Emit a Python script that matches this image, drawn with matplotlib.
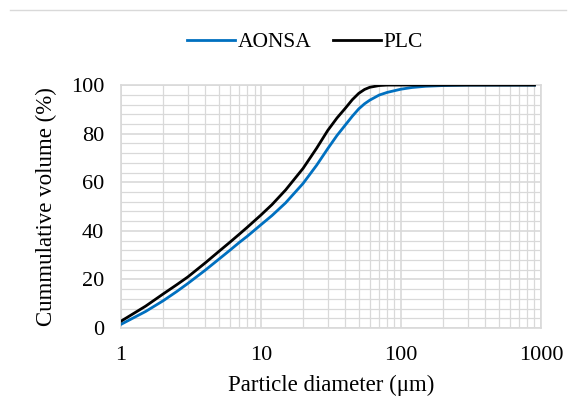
import matplotlib
matplotlib.use("Agg")
import matplotlib.pyplot as plt
from matplotlib.ticker import FixedLocator, NullFormatter
from matplotlib.lines import Line2D

# particle size distribution, cumulative volume (%)
d_aonsa = [1, 1.5, 2, 2.5, 3, 4, 5, 6, 7, 8, 10, 12, 15, 20, 25, 30, 35, 40, 45, 50,
           55, 60, 70, 80, 100, 120, 150, 200, 300, 500, 900]
aonsa = [1.5, 6.8, 11.2, 15.0, 18.3, 23.8, 28.3, 32, 35.2, 37.8, 42.5, 46.3, 51.5, 59.5, 67, 73.8, 79.3, 83.5, 87.2, 90.2,
         92.3, 93.8, 95.9, 97.0, 98.3, 99, 99.5, 99.8, 100, 100, 100]

d_plc = [1, 1.5, 2, 2.5, 3, 4, 5, 6, 7, 8, 10, 12, 15, 20, 25, 30, 35, 40, 45, 50,
         55, 60, 70, 80, 100, 200, 500, 900]
plc = [2.8, 9.0, 14.0, 17.8, 21.0, 26.8, 31.5, 35.3, 38.6, 41.5, 46.5, 50.8, 56.8, 65.7, 74, 81.3, 86.5, 90.4, 94, 96.6,
       98.2, 99.1, 99.8, 100, 100, 100, 100, 100]

x_ticks = [1, 10, 100, 1000]
y_ticks = [0, 20, 40, 60, 80, 100]

plt.rcParams["font.family"] = ["Liberation Serif", "DejaVu Serif"]

fig = plt.figure(figsize=(5.76, 4.17), dpi=100)
ax = fig.add_axes([0.210, 0.2134, 0.729, 0.5826])

grid_c = "#d9d9d9"
ax.plot(d_aonsa, aonsa, color="#0070c0", lw=2.0, label="AONSA", zorder=3)
ax.plot(d_plc, plc, color="black", lw=2.0, label="PLC", zorder=3)

ax.set_xscale("log")
ax.set_xlim(1, 1000)
ax.set_ylim(0, 100)
ax.set_xticks(x_ticks)
ax.set_xticklabels([str(t) for t in x_ticks])
ax.xaxis.set_minor_locator(FixedLocator([m * 10 ** e for e in range(3) for m in range(2, 10)]))
ax.xaxis.set_minor_formatter(NullFormatter())
ax.set_yticks(y_ticks)
ax.yaxis.set_minor_locator(FixedLocator([v for v in range(0, 101, 4) if v % 20]))

ax.grid(which="major", color=grid_c, lw=1.2)
ax.grid(which="minor", color=grid_c, lw=0.9)
ax.tick_params(which="both", length=0, labelsize=16, colors="black")
ax.tick_params(axis="x", pad=13)
ax.tick_params(axis="y", pad=12)
for s in ax.spines.values():
    s.set_color(grid_c)
    s.set_linewidth(1.2)

ax.set_xlabel("Particle diameter (\u03bcm)", fontsize=16.5, labelpad=7)
ax.set_ylabel("Cummulative volume (%)", fontsize=16.5, labelpad=10)

fig.legend(loc="center", bbox_to_anchor=(0.53, 0.899), ncol=2, frameon=False,
           fontsize=15.5, handlelength=2.2, handletextpad=0.15, columnspacing=1.0)

# thin rule across the top of the chart area
fig.add_artist(Line2D([0.017, 0.983], [0.975, 0.975], color="#d9d9d9", lw=1.0))

fig.savefig("out.png", dpi=100)
